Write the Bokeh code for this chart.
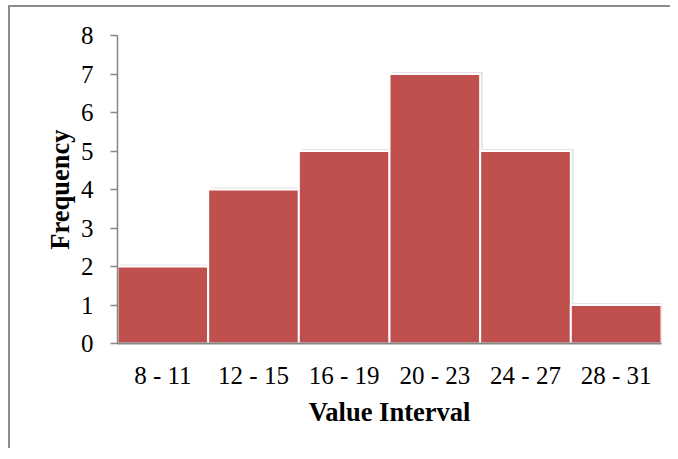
from bokeh.plotting import figure
from bokeh.models import ColumnDataSource, FixedTicker, Range1d
from bokeh.transform import dodge
from bokeh.embed import file_html
from bokeh.resources import INLINE

categories = ["8 - 11", "12 - 15", "16 - 19", "20 - 23", "24 - 27", "28 - 31"]
frequency = [2, 4, 5, 7, 5, 1]
y_ticks = [0, 1, 2, 3, 4, 5, 6, 7, 8]

src = ColumnDataSource(data=dict(cat=categories, freq=frequency,
                                 shadow=[f + 0.05 for f in frequency]))

p = figure(x_range=categories, y_range=Range1d(0, 8),
           width=662, height=443, output_backend="svg", toolbar_location=None,
           min_border_left=107, min_border_right=11, min_border_top=28,
           min_border_bottom=107)
p.styles = {"border-top": "2px solid #8c8c8c", "border-left": "2px solid #8c8c8c",
            "margin-left": "8px", "margin-top": "5px"}

# soft shadow behind bars
p.vbar(x=dodge("cat", 0.03, range=p.x_range), top="shadow", width=1.0, source=src,
       fill_color="#e4e4e4", line_color=None)
p.vbar(x="cat", top="freq", width=1.0, source=src,
       fill_color="#C0504D", line_color="white", line_width=2)

p.outline_line_color = None
p.xgrid.grid_line_color = None
p.ygrid.grid_line_color = None
p.background_fill_color = "white"
p.border_fill_color = "white"

font = "Liberation Serif"
p.yaxis.ticker = FixedTicker(ticks=y_ticks)
p.yaxis.axis_line_color = "#868686"
p.yaxis.axis_line_width = 1.5
p.yaxis.major_tick_line_color = "#868686"
p.yaxis.major_tick_line_width = 1.5
p.yaxis.major_tick_out = 7
p.yaxis.major_tick_in = 0
p.yaxis.minor_tick_line_color = None
p.yaxis.major_label_text_font = font
p.yaxis.major_label_text_font_size = "25px"
p.yaxis.major_label_text_color = "black"
p.yaxis.major_label_standoff = 17
p.yaxis.axis_label = "Frequency"
p.yaxis.axis_label_text_font = font
p.yaxis.axis_label_text_font_size = "26.5px"
p.yaxis.axis_label_text_font_style = "bold"
p.yaxis.axis_label_text_color = "black"
p.yaxis.axis_label_standoff = 3

p.xaxis.axis_line_color = "#868686"
p.xaxis.axis_line_width = 2
p.xaxis.major_tick_line_color = None
p.xaxis.major_tick_out = 0
p.xaxis.major_tick_in = 0
p.xaxis.minor_tick_line_color = None
p.xaxis.major_label_text_font = font
p.xaxis.major_label_text_font_size = "25px"
p.xaxis.major_label_text_color = "black"
p.xaxis.major_label_standoff = 18
p.xaxis.axis_label = "Value Interval"
p.xaxis.axis_label_text_font = font
p.xaxis.axis_label_text_font_size = "26.5px"
p.xaxis.axis_label_text_font_style = "bold"
p.xaxis.axis_label_text_color = "black"
p.xaxis.axis_label_standoff = 5

open("out.html", "w").write(file_html(p, INLINE))
